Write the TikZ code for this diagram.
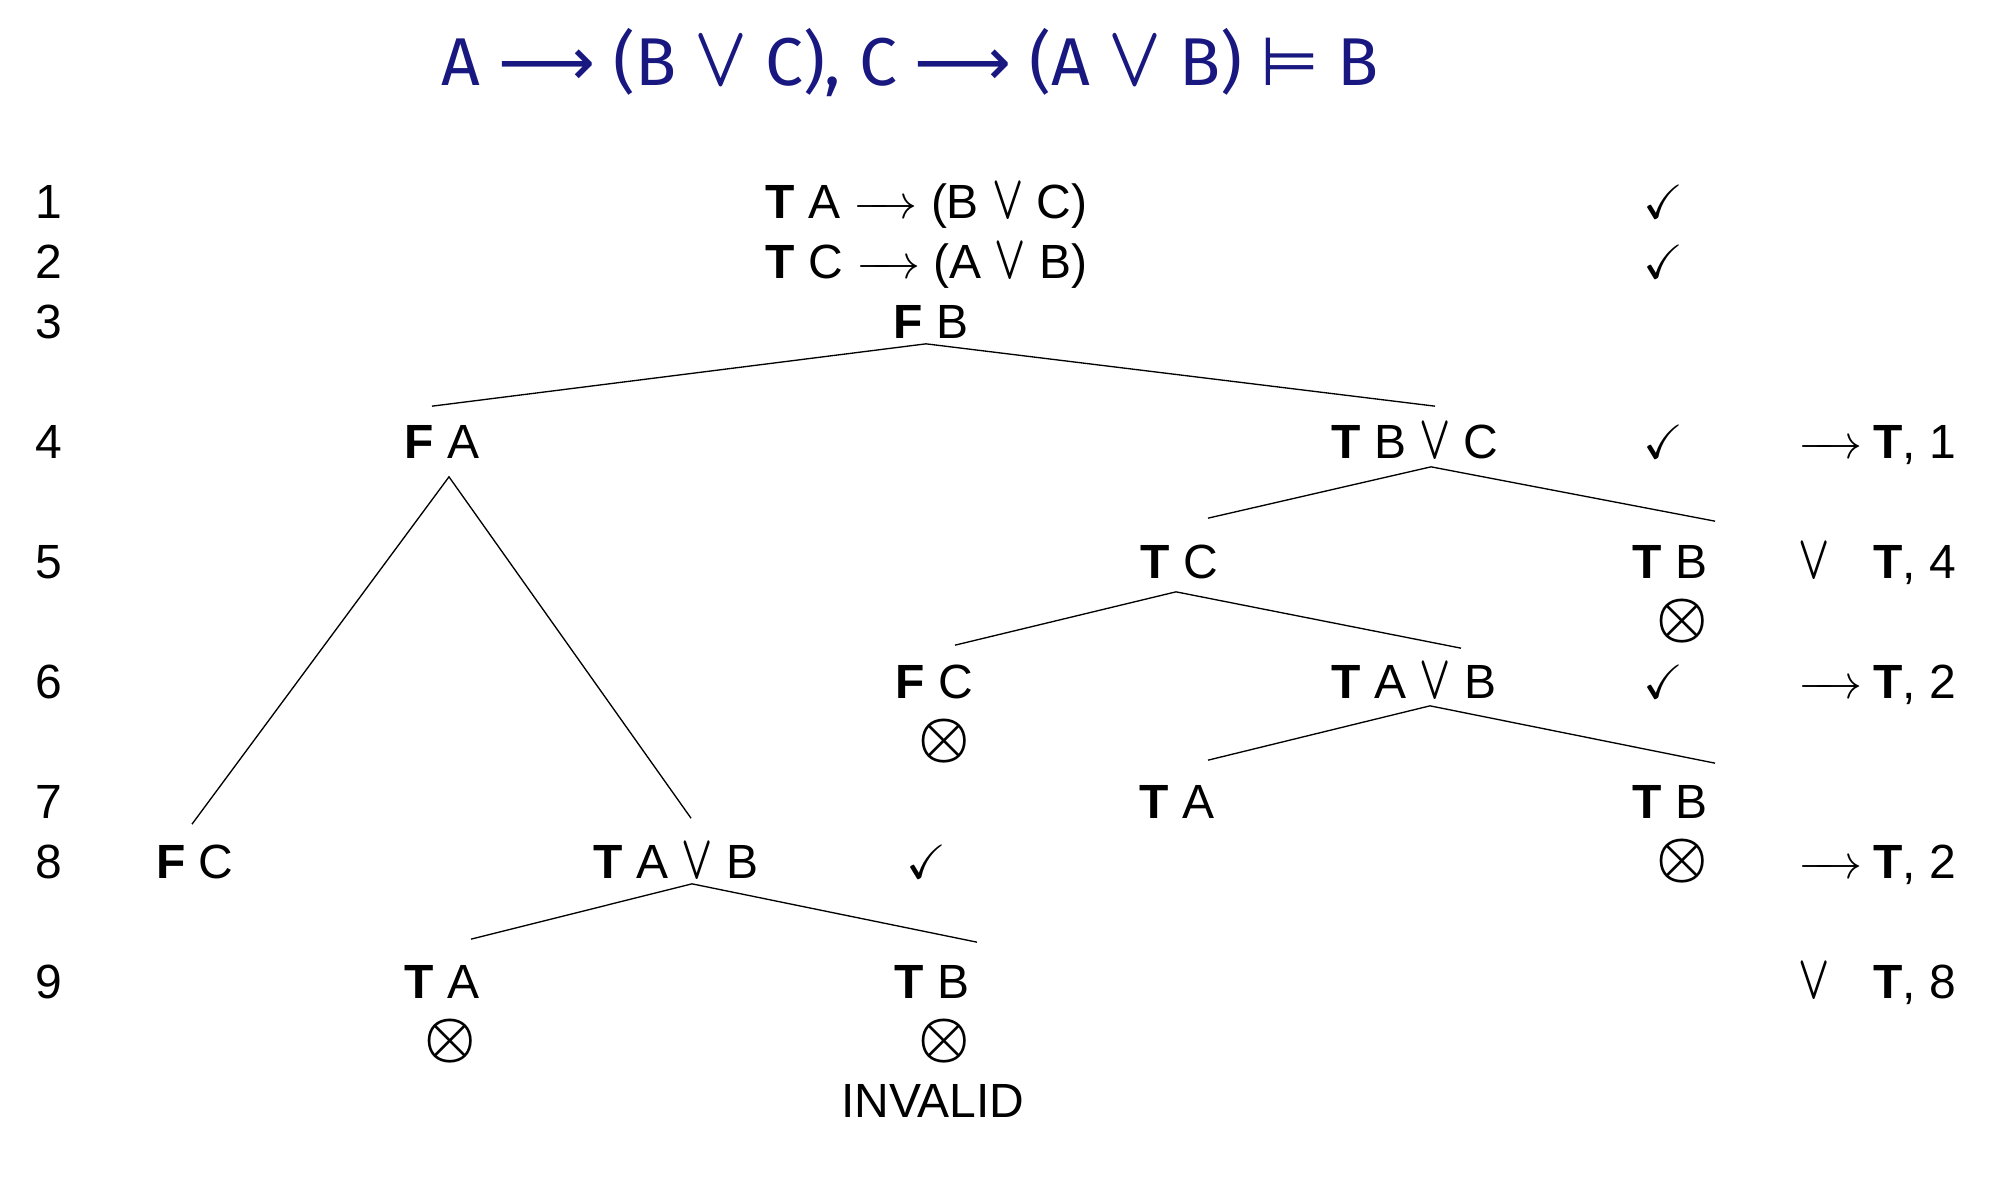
\documentclass[tikz,border=0pt]{standalone}
\usepackage{amsmath,amssymb}
\usepackage{fontspec}
\setmainfont{Liberation Sans}
\newfontfamily\titlefont{Fira Sans}
\newfontfamily\symfont{DejaVu Sans}
\usetikzlibrary{calc}
\definecolor{titleblue}{RGB}{24,24,128}
\newcommand{\larr}{$\mathrel{\relbar\mkern-8mu\rightarrow}$}
\newcommand{\vl}{\scalebox{0.85}[1.3]{$\boldsymbol{\vee}$}}
\newcommand{\tvl}{\scalebox{1}[1.25]{$\boldsymbol{\vee}$}}
\newcommand{\rulelbl}[2]{\makebox[22.5pt][l]{#1}\textbf{T}, #2}

\begin{document}
\begin{tikzpicture}[x=0.3pt,y=-0.3pt,font=\fontsize{14.4pt}{17pt}\selectfont,
  fm/.style={inner sep=0pt, text height=10.3pt, text depth=0pt},
  cl/.style={inner sep=0pt, font=\fontsize{18.5pt}{18.5pt}\selectfont},
  rl/.style={fm, anchor=west},
  br/.style={line width=0.4pt}]
\useasboundingbox (0,0) rectangle (2006,1190);

\node[text=titleblue, font={\titlefont\fontsize{20.3pt}{24pt}\selectfont}] (title) at (910,63)
  {A {\symfont ⟶} (B \tvl{} C), C {\symfont ⟶} (A \tvl{} B) {\symfont ⊨} B};

% line numbers
\foreach \k/\y in {1/201,2/261,3/321,4/441,5/561,6/681,7/801,8/861,9/981}
  \node[fm] (n\k) at (49,\y) {\k};

% trunk
\node[fm, anchor=west] (p1) at (765,201) {\textbf{T} A \larr{} (B \vl{} C)};
\node[fm, anchor=west] (p2) at (765,261) {\textbf{T} C \larr{} (A \vl{} B)};
\node[fm] (fB) at (931,321) {\textbf{F} B};

% left branch
\node[fm] (fA) at (442,441) {\textbf{F} A};
\node[fm] (fC8) at (195,861) {\textbf{F} C};
\node[fm] (tAB8) at (676,861) {\textbf{T} A \vl{} B};
\node[fm] (tA9) at (442,981) {\textbf{T} A};
\node[fm] (tB9) at (932,981) {\textbf{T} B};

% right branch
\node[fm] (tBC) at (1415,441) {\textbf{T} B \vl{} C};
\node[fm] (tC5) at (1179,561) {\textbf{T} C};
\node[fm] (tB5) at (1670,561) {\textbf{T} B};
\node[fm] (fC6) at (934,681) {\textbf{F} C};
\node[fm] (tAB6) at (1414,681) {\textbf{T} A \vl{} B};
\node[fm] (tA7) at (1177,801) {\textbf{T} A};
\node[fm] (tB7) at (1670,801) {\textbf{T} B};

% ticks
\node[fm] (ck1) at (1663,201) {$\checkmark$};
\node[fm] (ck2) at (1663,261) {$\checkmark$};
\node[fm] (ck4) at (1663,441) {$\checkmark$};
\node[fm] (ck6) at (1663,681) {$\checkmark$};
\node[fm] (ck8) at (926,861) {$\checkmark$};

% closed branches
\node[cl] (x5) at (1682,621) {$\boldsymbol{\otimes}$};
\node[cl] (x6) at (944,741) {$\boldsymbol{\otimes}$};
\node[cl] (x8) at (1682,861) {$\boldsymbol{\otimes}$};
\node[cl] (x9a) at (450,1041) {$\boldsymbol{\otimes}$};
\node[cl] (x9b) at (944,1041) {$\boldsymbol{\otimes}$};
\node (inv) at (933,1101) {INVALID};

% rules
\node[rl] (r4) at (1798,441) {\rulelbl{\larr}{1}};
\node[rl] (r5) at (1798,561) {\rulelbl{\vl}{4}};
\node[rl] (r6) at (1798,681) {\rulelbl{\larr}{2}};
\node[rl] (r8) at (1798,861) {\rulelbl{\larr}{2}};
\node[rl] (r9) at (1798,981) {\rulelbl{\vl}{8}};

% branches
\draw[br] ($(fA.north)+(-10,-17)$) -- ($(fB.south)+(-5,5)$) -- ($(tBC.north)+(20,-17)$);
\draw[br] ($(fC8.north)+(-3,-19)$) -- ($(fA.south)+(7,18)$) -- ($(tAB8.north)+(15,-25)$);
\draw[br] ($(tA9.north)+(29,-24)$) -- ($(tAB8.south)+(16,5)$) -- ($(tB9.north)+(45,-21)$);
\draw[br] ($(tC5.north)+(29,-25)$) -- ($(tBC.south)+(16,8)$) -- ($(tB5.north)+(45,-22)$);
\draw[br] ($(fC6.north)+(21,-18)$) -- ($(tC5.south)+(-3,13)$) -- ($(tAB6.north)+(47,-15)$);
\draw[br] ($(tA7.north)+(31,-23)$) -- ($(tAB6.south)+(16,7)$) -- ($(tB7.north)+(45,-20)$);
\end{tikzpicture}
\end{document}
